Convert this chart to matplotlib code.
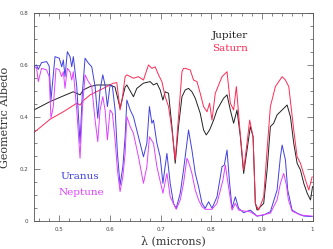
import matplotlib
matplotlib.use('Agg')
import matplotlib.pyplot as plt
from matplotlib.ticker import MultipleLocator, FixedLocator

# wavelength (microns) and geometric albedo
jup_wl = [0.450, 0.4816, 0.508, 0.5277, 0.541, 0.5475, 0.5608, 0.574, 0.6003, 0.610, 0.620, 0.630,
          0.6334, 0.6464, 0.6531, 0.6662, 0.6794, 0.686, 0.6927, 0.6992, 0.7046, 0.7091, 0.7157,
          0.7224, 0.7289, 0.7354, 0.7422, 0.7487, 0.7552, 0.7619, 0.7685, 0.7783, 0.7849, 0.7902,
          0.7968, 0.8047, 0.8114, 0.8244, 0.8312, 0.8377, 0.8442, 0.8509, 0.8575, 0.864, 0.8707,
          0.8772, 0.8826, 0.8871, 0.8905, 0.897, 0.9036, 0.9103, 0.9168, 0.9233, 0.930, 0.940,
          0.9498, 0.9564, 0.9629, 0.9696, 0.9762, 0.9827, 0.9894, 0.996, 1.0]
jup_alb = [0.427, 0.459, 0.481, 0.497, 0.485, 0.504, 0.517, 0.523, 0.523, 0.515, 0.435, 0.515,
           0.523, 0.478, 0.510, 0.530, 0.536, 0.523, 0.530, 0.504, 0.465, 0.497, 0.491,
           0.363, 0.222, 0.363, 0.478, 0.504, 0.510, 0.497, 0.472, 0.414, 0.350, 0.331,
           0.350, 0.388, 0.427, 0.472, 0.485, 0.427, 0.376, 0.427, 0.324, 0.183, 0.273,
           0.363, 0.324, 0.068, 0.042, 0.055, 0.068, 0.196, 0.363, 0.376, 0.408, 0.427,
           0.446, 0.401, 0.299, 0.222, 0.196, 0.145, 0.107, 0.081, 0.132]

sat_wl = [0.450, 0.4816, 0.508, 0.5345, 0.541, 0.547, 0.5608, 0.587, 0.6069, 0.6136, 0.620, 0.624,
          0.630, 0.6334, 0.6464, 0.6563, 0.6662, 0.6761, 0.6828, 0.6893, 0.6959, 0.7026, 0.7091,
          0.7157, 0.7224, 0.7289, 0.7354, 0.7422, 0.7453, 0.7487, 0.7585, 0.7651, 0.7718, 0.7783,
          0.7849, 0.7916, 0.7968, 0.8015, 0.808, 0.8213, 0.8312, 0.8377, 0.8442, 0.8496, 0.8561,
          0.864, 0.8707, 0.8759, 0.8826, 0.8871, 0.8937, 0.9036, 0.9103, 0.9168, 0.9267, 0.940,
          0.9465, 0.9531, 0.9629, 0.9696, 0.9762, 0.9861, 0.9926, 0.9993]
sat_alb = [0.340, 0.391, 0.420, 0.453, 0.446, 0.462, 0.485, 0.510, 0.530, 0.532, 0.427, 0.465,
           0.555, 0.562, 0.549, 0.555, 0.542, 0.600, 0.587, 0.593, 0.562, 0.536, 0.478,
           0.440, 0.350, 0.235, 0.401, 0.574, 0.587, 0.587, 0.581, 0.542, 0.536, 0.491,
           0.440, 0.420, 0.453, 0.388, 0.491, 0.555, 0.574, 0.453, 0.427, 0.517, 0.363,
           0.196, 0.299, 0.388, 0.324, 0.068, 0.042, 0.093, 0.273, 0.440, 0.517, 0.555,
           0.542, 0.517, 0.350, 0.247, 0.222, 0.158, 0.119, 0.170]

ura_wl = [0.450, 0.455, 0.4585, 0.465, 0.475, 0.480, 0.4836, 0.4915, 0.500, 0.5048, 0.508, 0.5113,
          0.5159, 0.5212, 0.5246, 0.5277, 0.5345, 0.541, 0.5455, 0.5509, 0.5574, 0.5641, 0.5707,
          0.576, 0.5805, 0.5859, 0.5904, 0.595, 0.6003, 0.6049, 0.6102, 0.6148, 0.620, 0.6255,
          0.630, 0.6334, 0.640, 0.6464, 0.6563, 0.6662, 0.6729, 0.678, 0.6828, 0.686, 0.6927,
          0.6992, 0.7046, 0.7125, 0.719, 0.7255, 0.7309, 0.7388, 0.7453, 0.7552, 0.7619, 0.7685,
          0.775, 0.7817, 0.7882, 0.7948, 0.8015, 0.8114, 0.8213, 0.8258, 0.8312, 0.8363, 0.8411,
          0.8476, 0.8541, 0.864, 0.8772, 0.8905, 0.9036, 0.9168, 0.930, 0.9366, 0.940, 0.9465,
          0.951, 0.9597, 0.9696, 0.9827, 0.9993]
ura_alb = [0.593, 0.600, 0.583, 0.609, 0.613, 0.596, 0.465, 0.632, 0.626, 0.593, 0.619, 0.555,
           0.651, 0.632, 0.593, 0.632, 0.517, 0.299, 0.491, 0.626, 0.607, 0.593, 0.517,
           0.395, 0.504, 0.562, 0.523, 0.440, 0.523, 0.517, 0.427, 0.260, 0.138, 0.209,
           0.324, 0.465, 0.427, 0.401, 0.324, 0.247, 0.299, 0.440, 0.376, 0.388, 0.299,
           0.247, 0.145, 0.260, 0.145, 0.068, 0.049, 0.107, 0.196, 0.350, 0.273, 0.183,
           0.132, 0.068, 0.049, 0.074, 0.049, 0.093, 0.209, 0.215, 0.273, 0.145, 0.049,
           0.093, 0.049, 0.032, 0.042, 0.019, 0.023, 0.036, 0.119, 0.247, 0.292, 0.235,
           0.119, 0.042, 0.030, 0.019, 0.017]

nep_wl = [0.450, 0.455, 0.4585, 0.465, 0.475, 0.480, 0.4836, 0.4882, 0.4935, 0.500, 0.5048, 0.508,
          0.5113, 0.5159, 0.5212, 0.5246, 0.5277, 0.5345, 0.541, 0.5455, 0.5509, 0.5574, 0.5641,
          0.5707, 0.576, 0.5805, 0.5859, 0.5904, 0.595, 0.6003, 0.6049, 0.6102, 0.6148, 0.620,
          0.6255, 0.630, 0.6334, 0.640, 0.6464, 0.6563, 0.6662, 0.6729, 0.678, 0.686, 0.6927,
          0.7046, 0.7125, 0.719, 0.7309, 0.7388, 0.7453, 0.752, 0.7552, 0.7619, 0.7685, 0.775,
          0.7817, 0.7882, 0.8015, 0.8114, 0.8232, 0.8278, 0.8337, 0.8411, 0.8476, 0.8541, 0.8772,
          0.8905, 0.9168, 0.930, 0.9366, 0.9431, 0.9485, 0.9524, 0.9597, 0.976, 0.9993]
nep_alb = [0.587, 0.591, 0.536, 0.587, 0.581, 0.555, 0.396, 0.440, 0.587, 0.581, 0.555, 0.574,
           0.510, 0.587, 0.574, 0.542, 0.574, 0.427, 0.241, 0.427, 0.562, 0.536, 0.517,
           0.388, 0.305, 0.427, 0.478, 0.427, 0.312, 0.427, 0.414, 0.312, 0.196, 0.113,
           0.170, 0.260, 0.401, 0.363, 0.337, 0.247, 0.145, 0.209, 0.324, 0.299, 0.209,
           0.107, 0.183, 0.093, 0.045, 0.081, 0.145, 0.241, 0.228, 0.183, 0.119, 0.081,
           0.055, 0.045, 0.045, 0.068, 0.158, 0.215, 0.138, 0.042, 0.068, 0.042, 0.035,
           0.019, 0.030, 0.081, 0.145, 0.183, 0.138, 0.081, 0.038, 0.023, 0.019]

names = ['Jupiter', 'Saturn', 'Uranus', 'Neptune']
colors = ['#222222', '#ff2a55', '#4040e0', '#e040ff']
xticks = [0.5, 0.6, 0.7, 0.8, 0.9, 1.0]
xtick_labels = ['0.5', '0.6', '0.7', '0.8', '0.9', '1']
yticks = [0, 0.2, 0.4, 0.6, 0.8]
ytick_labels = ['0', '0.2', '0.4', '0.6', '0.8']

fig = plt.figure(figsize=(3.33, 2.49), dpi=100)
ax = fig.add_axes([0.102, 0.1124, 0.8365, 0.8356])

series = [(jup_wl, jup_alb), (sat_wl, sat_alb), (ura_wl, ura_alb), (nep_wl, nep_alb)]
for (wl, alb), c in zip(series, colors):
    ax.plot(wl, alb, color=c, lw=0.7)

ax.set_xlim(0.45, 1.0)
ax.set_ylim(0, 0.8)

ax.xaxis.set_major_locator(FixedLocator(xticks))
ax.xaxis.set_minor_locator(MultipleLocator(0.02))
ax.yaxis.set_major_locator(FixedLocator(yticks))
ax.yaxis.set_minor_locator(MultipleLocator(0.05))
ax.set_xticklabels(xtick_labels)
ax.set_yticklabels(ytick_labels)
ax.tick_params(which='both', direction='in', top=True, right=True, labelsize=4,
               labelcolor='#444444', color='#555555', width=0.5, pad=4)
ax.tick_params(which='major', length=4)
ax.tick_params(which='minor', length=2)
for s in ax.spines.values():
    s.set_linewidth(0.6)
    s.set_color('#555555')

serif = 'DejaVu Serif'
ax.set_xlabel('\u03bb (microns)', family=serif, fontsize=8, color='#333333', labelpad=3)
ax.set_ylabel('Geometric Albedo', family=serif, fontsize=8, color='#333333')
ax.yaxis.set_label_coords(-0.085, 0.5)

ax.text(0.8015, 0.713, names[0], color=colors[0], family=serif,
        fontsize=7.5, ha='left', va='center')
ax.text(0.8015, 0.663, names[1], color=colors[1], family=serif,
        fontsize=7.5, ha='left', va='center')
ax.text(0.541, 0.170, names[2], color=colors[2], family=serif,
        fontsize=7.5, ha='center', va='center')
ax.text(0.5443, 0.109, names[3], color=colors[3], family=serif,
        fontsize=7.5, ha='center', va='center')

fig.savefig('out.png', dpi=100)
